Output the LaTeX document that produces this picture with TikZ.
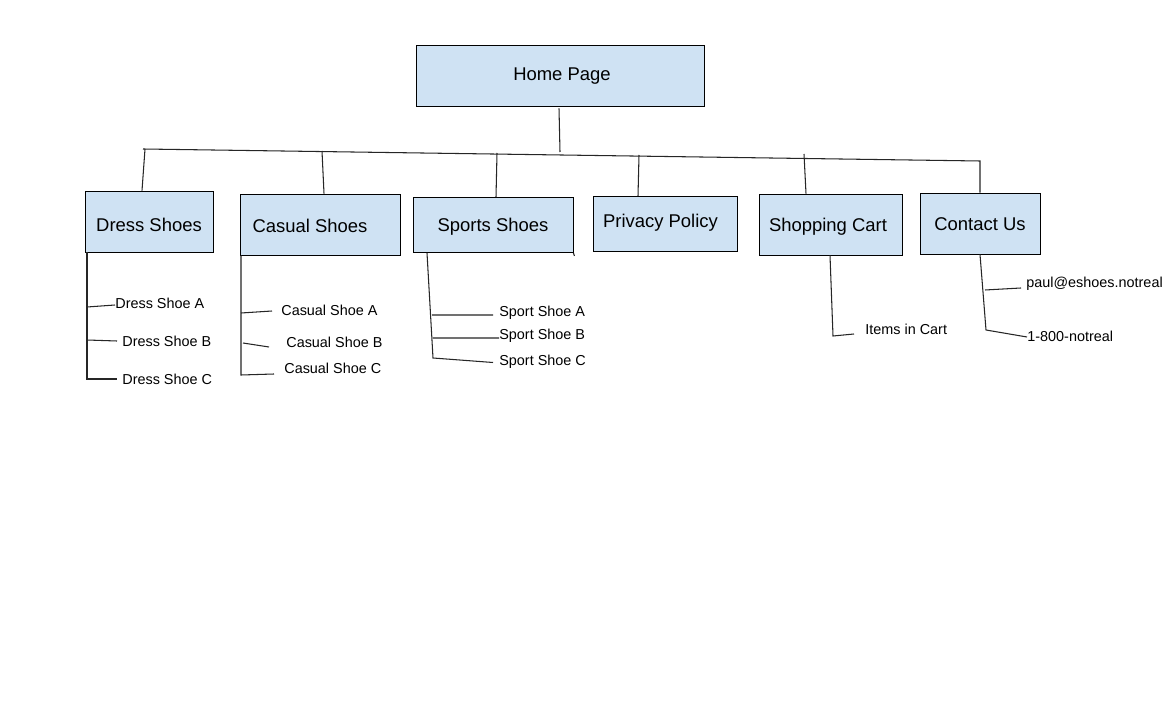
\documentclass[tikz,border=0pt]{standalone}
\usepackage{fontspec}
\setmainfont{Liberation Sans}
\definecolor{boxblue}{HTML}{CFE2F3}

\tikzset{
  page/.style={draw=black, fill=boxblue, line width=0.5pt, inner sep=0pt,
    text height=7.5pt, text depth=0pt, font=\fontsize{10.5}{12}\selectfont},
  leaf/.style={anchor=west, inner sep=0pt, font=\fontsize{8.2}{10}\selectfont},
  link/.style={line width=0.6pt, black!85}
}

\begin{document}
\begin{tikzpicture}[x=0.02cm,y=-0.02cm]
  \fill[white] (0,0) rectangle (1176,719);
  \useasboundingbox (0,0) rectangle (1176,719);
  % top level
  \node[page, minimum width=5.76cm, minimum height=1.22cm, text depth=2.3pt] (home) at (560,75.5) {\kern0.08cm Home Page};
  \node[page, minimum width=2.56cm, minimum height=1.22cm, text height=11pt] (dress) at (149,221.5) {Dress Shoes};
  \node[page, minimum width=3.2cm, minimum height=1.22cm, text height=8.7pt] (casual) at (320.5,224.5) {Casual Shoes\kern0.42cm};
  \node[page, minimum width=3.2cm, minimum height=1.1cm] (sports) at (493,225) {Sports Shoes};
  \node[page, minimum width=2.88cm, minimum height=1.1cm, text depth=3.4pt] (privacy) at (665,224) {Privacy Policy\kern0.18cm};
  \node[page, minimum width=2.86cm, minimum height=1.22cm] (shop) at (830.5,224.5) {Shopping Cart\kern0.1cm};
  \node[page, minimum width=2.4cm, minimum height=1.22cm] (contact) at (980,223.5) {Contact Us};
  \draw[link] (sports.south east) -- ++(1,3);
  % the bar under the home page
  \coordinate (hub) at (560,152);
  \coordinate (barL) at (143,149);
  \coordinate (barR) at (980,161);
  \draw[link] ([xshift=-0.02cm]home.south) ++(0,2) -- (hub);
  \draw[link] (barL) -- (barR) -- (contact.north);
  \foreach \n/\tx/\ty/\bx in {dress/145/149/142, casual/322/151/324, sports/497/153/496,
                              privacy/639/155/638, shop/804/154/806}{
    \coordinate (top-\n) at (\tx,\ty);
    \draw[link] (top-\n) -- (\bx,0 |- \n.north);}
  % dress shoes
  \node[leaf] (dressA) at (115,303) {Dress Shoe A};
  \node[leaf] (dressB) at (122,341) {Dress Shoe B};
  \node[leaf] (dressC) at (122,379) {Dress Shoe C};
  \coordinate (dressJ) at (87,307);
  \coordinate (dressK) at (87,340);
  \coordinate (dressEnd) at (87,379);
  \draw[link] (87,0 |- dress.south) -- (dressEnd) -- ([xshift=-0.1cm]dressC.west);
  \draw[link] (dressJ) -- ([yshift=-0.04cm]dressA.west);
  \draw[link] (dressK) -- ([xshift=-0.1cm]dressB.west);
  % casual shoes
  \node[leaf] (casualA) at (281,310) {Casual Shoe A};
  \node[leaf] (casualB) at (286,342) {Casual Shoe B};
  \node[leaf] (casualC) at (284,368) {Casual Shoe C};
  \coordinate (casualJ) at (241,313);
  \coordinate (casualK) at (243,343);
  \coordinate (casualEnd) at (241,375);
  \draw[link] (241,0 |- casual.south) -- (casualEnd) -- (274,374);
  \draw[link] (casualJ) -- (272,311);
  \draw[link] (casualK) -- (269,347);
  % sports shoes
  \node[leaf] (sportA) at (499,313) {Sport Shoe A};
  \node[leaf] (sportB) at (499,336) {Sport Shoe B};
  \node[leaf] (sportC) at (499,362) {Sport Shoe C};
  \coordinate (sportJ) at (432,315);
  \coordinate (sportK) at (432.5,338);
  \coordinate (sportEnd) at (433,358);
  \draw[link] (427,0 |- sports.south) -- (sportEnd) -- ([xshift=-0.12cm,yshift=-0.01cm]sportC.west);
  \draw[link] (sportJ) -- ([xshift=-0.12cm,yshift=-0.04cm]sportA.west);
  \draw[link] (sportK) -- ([yshift=-0.04cm]sportB.west);
  % shopping cart
  \node[leaf] (items) at (865,329) {Items in Cart};
  \coordinate (shopEnd) at (833,336);
  \draw[link] (830,0 |- shop.south) -- (shopEnd) -- (854,334);
  % contact us
  \node[leaf] (mail) at (1026,284) {paul@eshoes.notreal};
  \node[leaf] (phone) at (1027,336) {1-800-notreal};
  \coordinate (mailJ) at (985,290);
  \coordinate (phoneEnd) at (986,330);
  \draw[link] (980,0 |- contact.south) -- (phoneEnd) -- ([yshift=-0.02cm]phone.west);
  \draw[link] (mailJ) -- (1021,288);
\end{tikzpicture}
\end{document}
